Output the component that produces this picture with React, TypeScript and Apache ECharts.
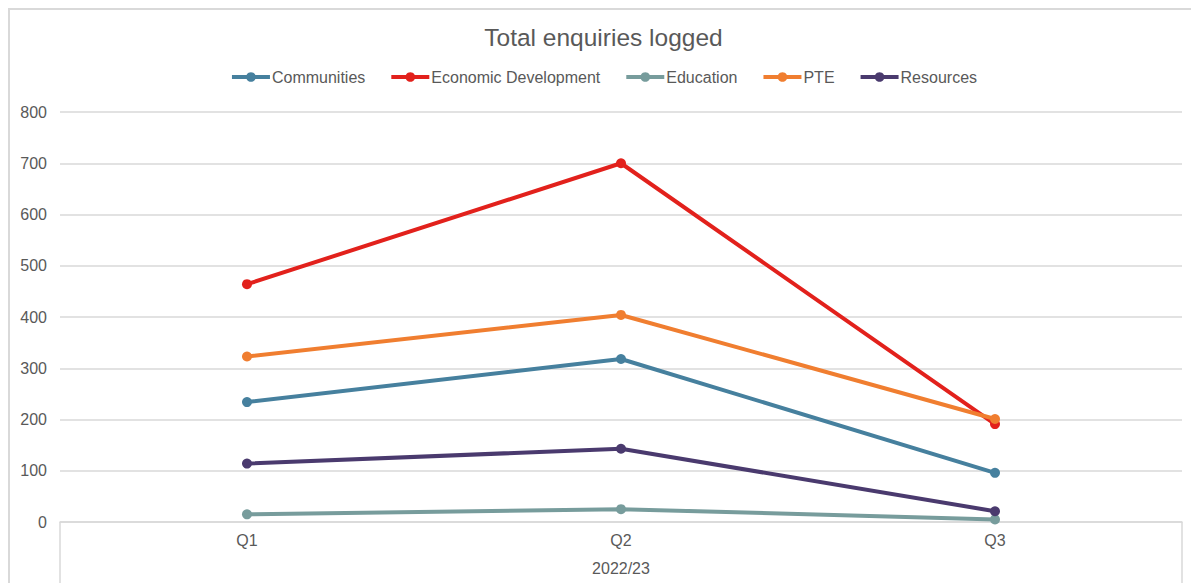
import React, { useEffect, useRef } from "react";
import * as echarts from "echarts";

const categories = ["Q1", "Q2", "Q3"];
const groupLabels = ["2022/23"];
const yTicks = { min: 0, max: 800, interval: 100 };

const seriesNames = ["Communities", "Economic Development", "Education", "PTE", "Resources"];
const communities = [234, 318, 96];
const economicDevelopment = [464, 700, 191];
const education = [15, 25, 5];
const pte = [323, 404, 201];
const resources = [114, 143, 21];
const seriesColors = ["#46809E", "#E2211C", "#779C9C", "#F07E30", "#4A3A6E"];

const seriesValues = [communities, economicDevelopment, education, pte, resources];

const FONT = "'Liberation Sans', Arial, sans-serif";
const TEXT = "#595959";
const GRID = "#d9d9d9";

export default function App() {
  const ref = useRef<HTMLDivElement>(null);
  useEffect(() => {
    if (!ref.current) return;
    const chart = echarts.init(ref.current, undefined, { renderer: "svg" });
    chart.setOption({
      animation: false,
      backgroundColor: "#ffffff",
      textStyle: { fontFamily: FONT },
      title: {
        text: "Total enquiries logged",
        left: "center",
        top: 17,
        padding: 0,
        textStyle: { fontFamily: FONT, fontSize: 24.5, fontWeight: "normal", color: TEXT },
      },
      legend: {
        data: seriesNames,
        top: 56,
        left: "center",
        itemWidth: 38,
        itemHeight: 12,
        itemGap: 24,
        lineStyle: { width: 4 },
        textStyle: { fontFamily: FONT, fontSize: 16, color: TEXT, padding: [0, 0, 0, -3] },
      },
      grid: { left: 52, right: 17, top: 104, bottom: 61, containLabel: false },
      xAxis: [
        {
          type: "category",
          data: categories,
          boundaryGap: true,
          position: "bottom",
          axisLine: { show: true, lineStyle: { color: GRID, width: 1.5 } },
          axisTick: { show: false },
          axisLabel: { fontFamily: FONT, fontSize: 16, color: TEXT, margin: 10 },
          splitLine: { show: false },
        },
        {
          type: "category",
          data: groupLabels,
          boundaryGap: true,
          position: "bottom",
          axisLine: { show: false },
          axisTick: { show: true, length: 62, lineStyle: { color: GRID, width: 1.5 } },
          axisLabel: { fontFamily: FONT, fontSize: 16, color: TEXT, margin: 38 },
          splitLine: { show: false },
        },
      ],
      yAxis: {
        type: "value",
        min: yTicks.min,
        max: yTicks.max,
        interval: yTicks.interval,
        axisLine: { show: false },
        axisTick: { show: false },
        axisLabel: { fontFamily: FONT, fontSize: 16, color: TEXT, margin: 13 },
        splitLine: { show: true, lineStyle: { color: GRID, width: 1.5 } },
      },
      graphic: [
        { type: "line", shape: { x1: 1, y1: 0, x2: 1, y2: 575 }, style: { stroke: GRID, lineWidth: 2 } },
        { type: "line", shape: { x1: 0, y1: 1, x2: 1191, y2: 1 }, style: { stroke: GRID, lineWidth: 2 } },
      ],
      series: seriesNames.map((name, i) => ({
        name,
        type: "line",
        xAxisIndex: 0,
        data: seriesValues[i],
        color: seriesColors[i],
        symbol: "circle",
        symbolSize: 10,
        lineStyle: { width: 4, color: seriesColors[i] },
        itemStyle: { color: seriesColors[i] },
      })),
    });
    return () => chart.dispose();
  }, []);
  return <div ref={ref} style={{ width: 1191, height: 575 }} />;
}
